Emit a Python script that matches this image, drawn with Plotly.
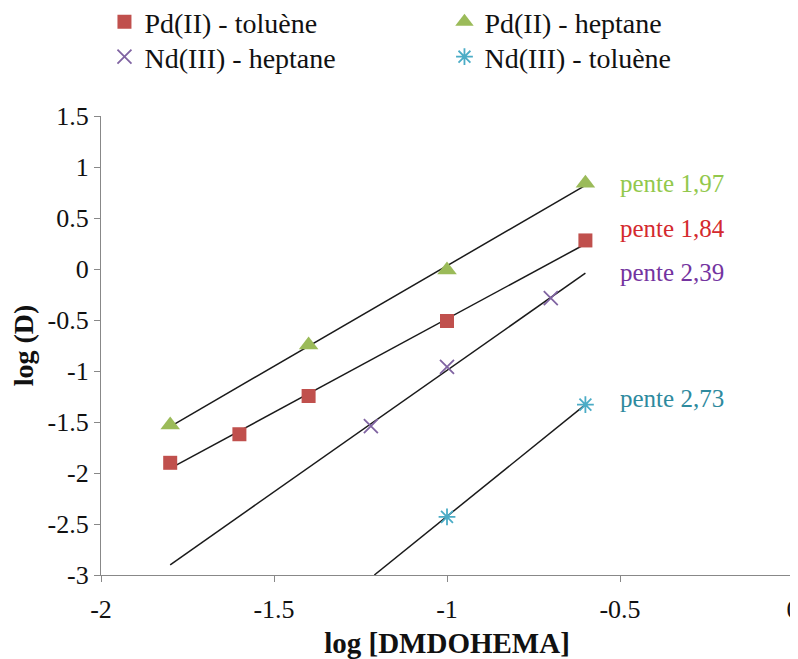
import plotly.graph_objects as go

# --- data ---
pd_tol_x = [-1.8, -1.6, -1.4, -1.0, -0.6]
pd_tol_y = [-1.90, -1.62, -1.245, -0.51, 0.28]

pd_hep_x = [-1.8, -1.4, -1.0, -0.6]
pd_hep_y = [-1.53, -0.745, -0.01, 0.84]

nd_hep_x = [-1.22, -1.0, -0.7]
nd_hep_y = [-1.54, -0.96, -0.285]

nd_tol_x = [-1.0, -0.6]
nd_tol_y = [-2.43, -1.33]

# trend lines (end points)
fit_pd_hep_x = [-1.8, -0.6]
fit_pd_hep_y = [-1.545, 0.82]
fit_pd_tol_x = [-1.8, -0.6]
fit_pd_tol_y = [-1.955, 0.245]
fit_nd_hep_x = [-1.8, -0.6]
fit_nd_hep_y = [-2.90, -0.04]
fit_nd_tol_x = [-1.21, -0.6]
fit_nd_tol_y = [-3.0, -1.33]

slope_labels = ["pente 1,97", "pente 1,84", "pente 2,39", "pente 2,73"]
slope_label_y = [0.84, 0.40, -0.03, -1.27]

x_ticks = [-2, -1.5, -1, -0.5, 0]
x_tick_text = ["-2", "-1.5", "-1", "-0.5", "0"]
y_ticks = [-3, -2.5, -2, -1.5, -1, -0.5, 0, 0.5, 1, 1.5]
y_tick_text = ["-3", "-2.5", "-2", "-1.5", "-1", "-0.5", "0", "0.5", "1", "1.5"]

FONT = "Liberation Serif, Times New Roman, Times, serif"
RED = "#C0504D"
GREEN = "#9BBB59"
PURPLE = "#8064A2"
CYAN = "#4BACC6"

fig = go.Figure()

for fx, fy in [(fit_pd_hep_x, fit_pd_hep_y), (fit_pd_tol_x, fit_pd_tol_y),
               (fit_nd_hep_x, fit_nd_hep_y), (fit_nd_tol_x, fit_nd_tol_y)]:
    fig.add_trace(go.Scatter(x=fx, y=fy, mode="lines", showlegend=False,
                             line=dict(color="#1a1a1a", width=1.5), hoverinfo="skip"))

fig.add_trace(go.Scatter(x=pd_tol_x, y=pd_tol_y, mode="markers", name="Pd(II) - toluène",
                         marker=dict(symbol="square", size=14, color=RED), legend="legend"))
fig.add_trace(go.Scatter(x=pd_hep_x, y=pd_hep_y, mode="markers", name="Pd(II) - heptane",
                         marker=dict(symbol="triangle-up", size=17, color=GREEN), legend="legend"))
fig.add_trace(go.Scatter(x=nd_hep_x, y=nd_hep_y, mode="markers", name="Nd(III) - heptane",
                         marker=dict(symbol="x-thin-open", size=14, color=PURPLE,
                                     line=dict(color=PURPLE, width=1.8)), legend="legend2"))
fig.add_trace(go.Scatter(x=nd_tol_x, y=nd_tol_y, mode="markers", name="Nd(III) - toluène",
                         marker=dict(symbol="asterisk-open", size=14, color=CYAN,
                                     line=dict(color=CYAN, width=1.8)), legend="legend2"))

label_colors = ["#92C84C", "#D42A2E", "#7434A0", "#2E8A9E"]
for txt, yy, c in zip(slope_labels, slope_label_y, label_colors):
    fig.add_annotation(x=-0.505, y=yy, text=txt, showarrow=False, xanchor="left",
                       yanchor="middle", font=dict(family=FONT, size=25, color=c))

legend_common = dict(orientation="h", xanchor="left", yanchor="middle",
                     font=dict(family=FONT, size=28, color="#111"),
                     entrywidth=295, entrywidthmode="pixels", bgcolor="rgba(0,0,0,0)",
                     itemclick=False)

# page body has an 8px margin: figure is sized/offset to compensate
fig.update_layout(
    width=790, height=651,
    margin=dict(l=93, r=5, t=108, b=84, autoexpand=False),
    paper_bgcolor="white", plot_bgcolor="white",
    font=dict(family=FONT, size=26, color="#111"),
    legend=dict(x=0.005, y=1 + (108 - 14) / 459, **legend_common),
    legend2=dict(x=0.005, y=1 + (108 - 49) / 459, **legend_common),
    xaxis=dict(range=[-2, 0], tickvals=x_ticks, ticktext=x_tick_text, automargin=False,
               showgrid=False, zeroline=False, showline=True, linecolor="#888888",
               linewidth=1.3, ticks="outside", ticklen=6, tickcolor="#888888",
               ticklabeloverflow="allow", ticklabelstandoff=5,
               tickfont=dict(family=FONT, size=26, color="#111"),
               title=dict(text="<b>log [DMDOHEMA]</b>", font=dict(family=FONT, size=29, color="#111"),
                          standoff=14)),
    yaxis=dict(range=[-3, 1.5], tickvals=y_ticks, ticktext=y_tick_text, automargin=False,
               showgrid=False, zeroline=False, showline=True, linecolor="#888888",
               linewidth=1.3, ticks="outside", ticklen=6, tickcolor="#888888",
               tickfont=dict(family=FONT, size=26, color="#111"),
               title=dict(text="<b>log (D)</b>", font=dict(family=FONT, size=28, color="#111"),
                          standoff=6)),
)

fig.write_html("out.html")
